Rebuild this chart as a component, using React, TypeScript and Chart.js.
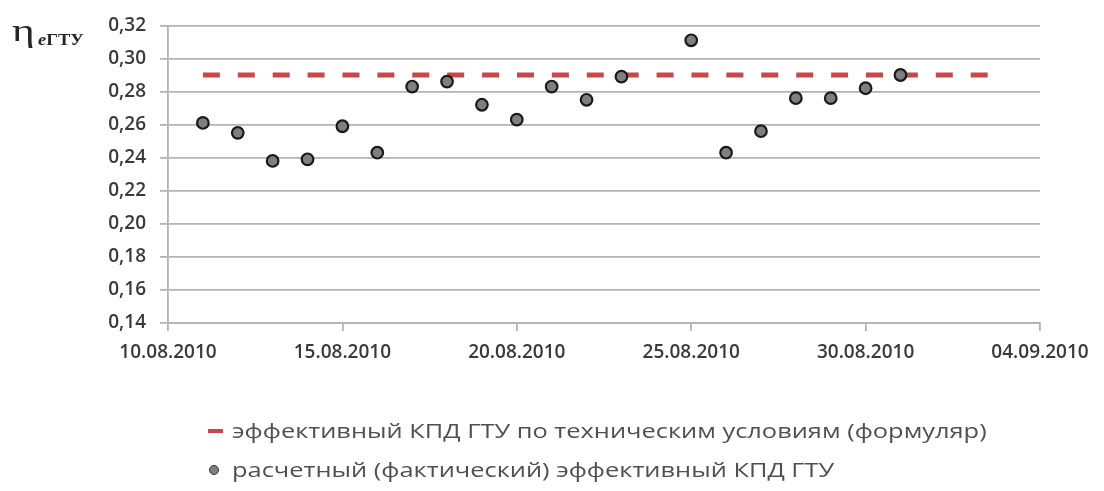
import React, { useEffect, useRef } from "react";
import { Chart, registerables } from "chart.js";

Chart.register(...registerables);

const startDate = "10.08.2010";
const endDate = "04.09.2010";
const xTickStepDays = 5;

const actualDates = [
  "11.08.2010", "12.08.2010", "13.08.2010", "14.08.2010", "15.08.2010",
  "16.08.2010", "17.08.2010", "18.08.2010", "19.08.2010", "20.08.2010",
  "21.08.2010", "22.08.2010", "23.08.2010", "25.08.2010", "26.08.2010",
  "27.08.2010", "28.08.2010", "29.08.2010", "30.08.2010", "31.08.2010",
];
const actualValues = [
  0.261, 0.255, 0.238, 0.239, 0.259,
  0.243, 0.283, 0.286, 0.272, 0.263,
  0.283, 0.275, 0.289, 0.311, 0.243,
  0.256, 0.276, 0.276, 0.282, 0.290,
];

const specDates = ["11.08.2010", "03.09.2010"];
const specValues = [0.29, 0.29];

const yMin = 0.14;
const yMax = 0.32;
const yStep = 0.02;

const legendSpec = "эффективный КПД ГТУ по техническим условиям (формуляр)";
const legendActual = "расчетный (фактический) эффективный КПД ГТУ";

const DAY = 86400000;
function parseDate(s: string): number {
  const [d, m, y] = s.split(".").map(Number);
  return Date.UTC(y, m - 1, d);
}
const base = parseDate(startDate);
function dayOffset(s: string): number {
  return Math.round((parseDate(s) - base) / DAY);
}
function formatDay(off: number): string {
  const dt = new Date(base + off * DAY);
  const dd = String(dt.getUTCDate()).padStart(2, "0");
  const mm = String(dt.getUTCMonth() + 1).padStart(2, "0");
  return `${dd}.${mm}.${dt.getUTCFullYear()}`;
}

const FONT = "'Open Sans', 'DejaVu Sans', sans-serif";
const GRID = "#b3b3b3";
const TEXT = "#3a3a3a";

export default function App() {
  const ref = useRef<HTMLCanvasElement | null>(null);

  useEffect(() => {
    if (!ref.current) return;
    const chart = new Chart(ref.current, {
      type: "scatter",
      data: {
        datasets: [
          {
            label: legendSpec,
            type: "line",
            data: specDates.map((d, i) => ({ x: dayOffset(d), y: specValues[i] })),
            borderColor: "#c8484a",
            borderWidth: 5,
            borderDash: [17, 17.9],
            borderCapStyle: "butt",
            pointRadius: 0,
            fill: false,
            order: 2,
          },
          {
            label: legendActual,
            data: actualDates.map((d, i) => ({ x: dayOffset(d), y: actualValues[i] })),
            backgroundColor: "#7f7f7f",
            borderColor: "#1a1a1a",
            borderWidth: 2.2,
            pointRadius: 5.8,
            order: 1,
          },
        ],
      },
      options: {
        animation: false,
        responsive: false,
        layout: { padding: { left: 0, top: 22, right: 64, bottom: 120 } },
        plugins: {
          legend: { display: false },
          tooltip: { enabled: false },
        },
        scales: {
          x: {
            type: "linear",
            min: 0,
            max: dayOffset(endDate),
            afterFit: (s: any) => {
              s.height = 48;
            },
            ticks: {
              stepSize: xTickStepDays,
              callback: (v: any) => formatDay(Number(v)),
              font: { family: FONT, size: 19, weight: "600" as any },
              color: TEXT,
              padding: 10,
              maxRotation: 0,
            },
            grid: {
              drawOnChartArea: false,
              drawTicks: true,
              tickLength: 8,
              color: GRID,
              lineWidth: 1.8,
            },
            border: { color: GRID, width: 1.8 },
          },
          y: {
            min: yMin,
            max: yMax,
            afterFit: (s: any) => {
              s.width = 168;
            },
            ticks: {
              stepSize: yStep,
              callback: (v: any) => Number(v).toFixed(2).replace(".", ","),
              font: { family: FONT, size: 19, weight: "600" as any },
              color: TEXT,
              padding: 14,
            },
            grid: {
              color: GRID,
              lineWidth: 1.8,
              tickLength: 8,
            },
            border: { color: GRID, width: 1.8 },
          },
        },
      },
    });
    return () => chart.destroy();
  }, []);

  return (
    <div style={{ position: "absolute", left: 0, top: 0, width: 1104, height: 491, background: "#fff" }}>
      <canvas ref={ref} width={1104} height={491} style={{ display: "block" }} />
      <div
        style={{
          position: "absolute",
          left: 0,
          top: 0,
          fontFamily: "'Liberation Serif', 'DejaVu Serif', serif",
          color: "#262626",
          whiteSpace: "nowrap",
        }}
      >
        <span
          style={{
            position: "absolute",
            left: 12,
            top: 15,
            fontSize: 31,
            lineHeight: "31px",
            display: "inline-block",
            transform: "scaleX(1.4)",
            transformOrigin: "left center",
          }}
        >
          η
        </span>
        <span
          style={{
            position: "absolute",
            left: 38,
            top: 31,
            fontSize: 16,
            lineHeight: "18px",
            fontWeight: 600,
            transform: "scaleX(1.15)",
            transformOrigin: "left center",
          }}
        >
          <i>e</i>ГТУ
        </span>
      </div>
      <div
        style={{
          position: "absolute",
          left: 205,
          top: 411,
          fontFamily: FONT,
          fontSize: 20,
          color: "#505050",
          lineHeight: "39px",
          whiteSpace: "nowrap",
        }}
      >
        <div style={{ display: "flex", alignItems: "center" }}>
          <span style={{ display: "inline-block", width: 15, height: 4, background: "#c8484a", marginLeft: 3, marginRight: 9 }} />
          <span style={{ display: "inline-block", transform: "scaleX(1.27)", transformOrigin: "left center" }}>{legendSpec}</span>
        </div>
        <div style={{ display: "flex", alignItems: "center" }}>
          <span
            style={{
              display: "inline-block",
              width: 8,
              height: 8,
              borderRadius: "50%",
              background: "#7f7f7f",
              border: "1px solid #333",
              marginLeft: 4,
              marginRight: 13,
            }}
          />
          <span style={{ display: "inline-block", transform: "scaleX(1.27)", transformOrigin: "left center" }}>{legendActual}</span>
        </div>
      </div>
    </div>
  );
}
